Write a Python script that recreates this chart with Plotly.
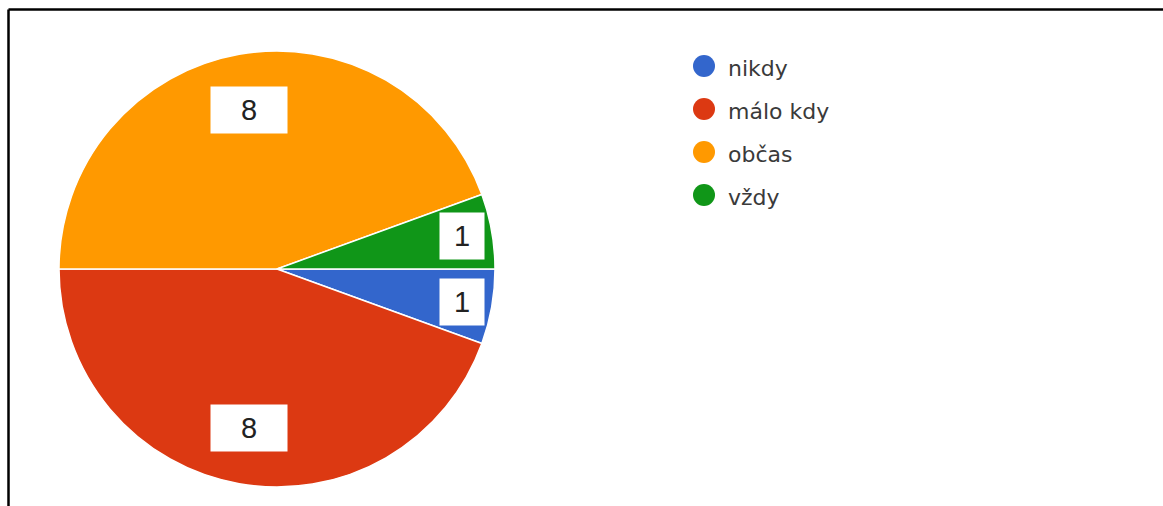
import math
import plotly.graph_objects as go

# Survey answers and counts
categories = ["nikdy", "málo kdy", "občas", "vždy"]
counts = [1, 8, 8, 1]
colors = ["#3366cc", "#dc3912", "#ff9900", "#109618"]

W, H = 1163, 506
# pie placement in pixels
cx, cy, R = 277, 269, 218
start_deg = 90  # first slice begins at 3 o'clock, clockwise

fig = go.Figure()
fig.add_trace(go.Pie(
    labels=categories,
    values=counts,
    sort=False,
    direction="clockwise",
    rotation=start_deg,
    marker=dict(colors=colors, line=dict(color="white", width=1.5)),
    textinfo="none",
    hoverinfo="label+value+percent",
    showlegend=False,
    domain=dict(x=[(cx - R) / W, (cx + R) / W], y=[1 - (cy + R) / H, 1 - (cy - R) / H]),
))

annotations = []
shapes = []

# value boxes placed at each slice's mid angle
total = sum(counts)
acc = 0
for v in counts:
    mid = start_deg + 360 * (acc + v / 2) / total
    acc += v
    large = v / total >= 0.25
    frac = 0.74 if large else 0.86
    px = cx + frac * R * math.sin(math.radians(mid))
    py = cy - frac * R * math.cos(math.radians(mid))
    annotations.append(dict(
        x=px / W, y=1 - py / H, xref="paper", yref="paper",
        text=str(v), showarrow=False, xanchor="center", yanchor="middle",
        font=dict(family="Arial, Liberation Sans", size=29, color="#222222"),
        bgcolor="white", borderpad=3,
        width=70 if large else 38, height=40,
    ))

# legend with round swatches
lx, ly0, step, rad = 704, 66, 43, 11
for i, (name, col) in enumerate(zip(categories, colors)):
    y = ly0 + i * step
    shapes.append(dict(
        type="circle", xref="paper", yref="paper",
        x0=(lx - rad) / W, x1=(lx + rad) / W,
        y0=1 - (y + rad) / H, y1=1 - (y - rad) / H,
        fillcolor=col, line=dict(width=0),
    ))
    annotations.append(dict(
        x=(lx + 22) / W, y=1 - (y + 2) / H, xref="paper", yref="paper",
        text=name, showarrow=False, xanchor="left", yanchor="middle",
        font=dict(family="DejaVu Sans", size=22, color="#3a3a3a"),
    ))

# frame lines along the top and left edges
shapes.append(dict(type="line", xref="paper", yref="paper",
                   x0=8.5 / W, x1=1, y0=1 - 9.5 / H, y1=1 - 9.5 / H,
                   line=dict(color="black", width=2.5)))
shapes.append(dict(type="line", xref="paper", yref="paper",
                   x0=8.5 / W, x1=8.5 / W, y0=0, y1=1 - 9.5 / H,
                   line=dict(color="black", width=2.5)))

fig.update_layout(
    width=W, height=H,
    margin=dict(l=0, r=0, t=0, b=0),
    paper_bgcolor="white", plot_bgcolor="white",
    annotations=annotations, shapes=shapes,
)

fig.write_html("out.html")
